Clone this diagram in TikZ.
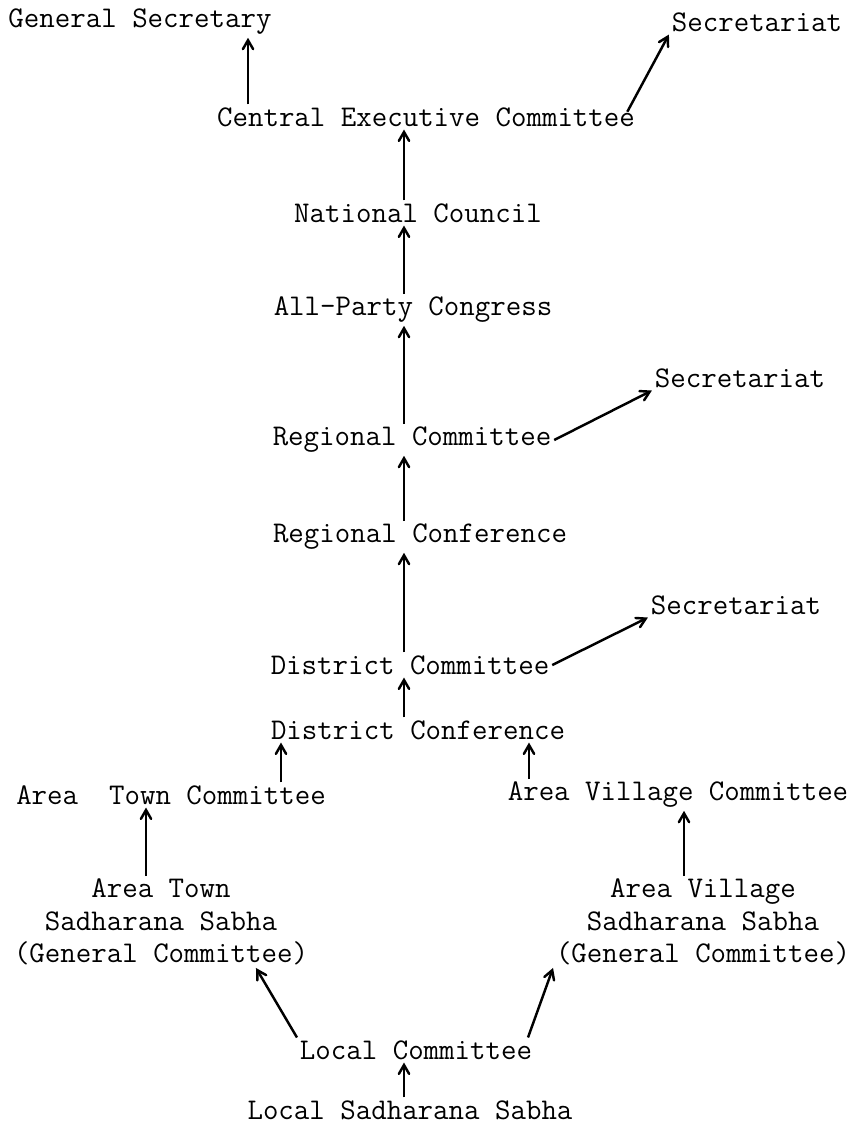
\documentclass[tikz,border=0pt]{standalone}
\usepackage{tikz}
\usetikzlibrary{arrows}
\tikzset {
	entry/.style={font=\fontsize{17.1}{18.4}\selectfont\ttfamily, align=center, inner sep=1.5pt},
	feeds/.style={->, >=angle 60, line width=1.4pt}
}

\begin{document}
\begin{tikzpicture}[x=0.02cm, y=-0.02cm]
					\useasboundingbox (0,0) rectangle (859,1126);
					\coordinate (spine) at (404,0);
					\coordinate (gsCol) at (248,0);
					\coordinate (townCol) at (281,0);
					\coordinate (villCol) at (529,0);
					\coordinate (townSabCol) at (146,0);
					\coordinate (villSabCol) at (684,0);

					\node [entry] (genSec) at (140,22) {General Secretary};
					\node [entry] (secTop) at (757,22) {Secretariat};
					\node [entry] (cec) at (426,117) {Central Executive Committee};
					\node [entry] (natCouncil) at (418,213) {National Council};
					\node [entry] (allParty) at (413,310) {All-Party Congress};
					\node [entry] (secRegion) at (740,378) {Secretariat};
					\node [entry] (regCom) at (412,440) {Regional Committee};
					\node [entry] (regConf) at (420,537) {Regional Conference};
					\node [entry] (secDist) at (736,605) {Secretariat};
					\node [entry] (distCom) at (410,665) {District Committee};
					\node [entry] (distConf) at (418,730) {District Conference};
					\node [entry] (townCom) at (171,795) {Area\ \ Town Committee};
					\node [entry] (villCom) at (678,795) {Area Village Committee};
					\node [entry] (townSabha) at (161,922) {Area Town\\Sadharana Sabha\\(General Committee)};
					\node [entry] (villSabha) at (703,922) {Area Village\\Sadharana Sabha\\(General Committee)};
					\node [entry] (localCom) at (416,1050) {Local Committee};
					\node [entry] (localSabha) at (410,1110) {Local Sadharana Sabha};

					\draw [feeds] (cec.north -| gsCol) -- (genSec.south -| gsCol);
					\draw [feeds] ([xshift=-6pt,yshift=3pt]cec.east) -- (secTop.south west);
					\draw [feeds] (natCouncil.north -| spine) -- (cec.south -| spine);
					\draw [feeds] (allParty.north -| spine) -- (natCouncil.south -| spine);
					\draw [feeds] (regCom.north -| spine) -- (allParty.south -| spine);
					\draw [feeds] (regCom.east) -- (secRegion.south west);
					\draw [feeds] (regConf.north -| spine) -- (regCom.south -| spine);
					\draw [feeds] (distCom.north -| spine) -- (regConf.south -| spine);
					\draw [feeds] (distCom.east) -- (secDist.south west);
					\draw [feeds] (distConf.north -| spine) -- (distCom.south -| spine);
					\draw [feeds] (townCom.north -| townCol) -- (distConf.south -| townCol);
					\draw [feeds] (villCom.north -| villCol) -- (distConf.south -| villCol);
					\draw [feeds] (townSabha.north -| townSabCol) -- (townCom.south -| townSabCol);
					\draw [feeds] (villSabha.north -| villSabCol) -- (villCom.south -| villSabCol);
					\draw [feeds] (localCom.north west) -- ([xshift=-1.1cm]townSabha.south east);
					\draw [feeds] ([xshift=-4pt]localCom.north east) -- (villSabha.south west);
					\draw [feeds] (localSabha.north -| spine) -- (localCom.south -| spine);
\end{tikzpicture}
\end{document}
